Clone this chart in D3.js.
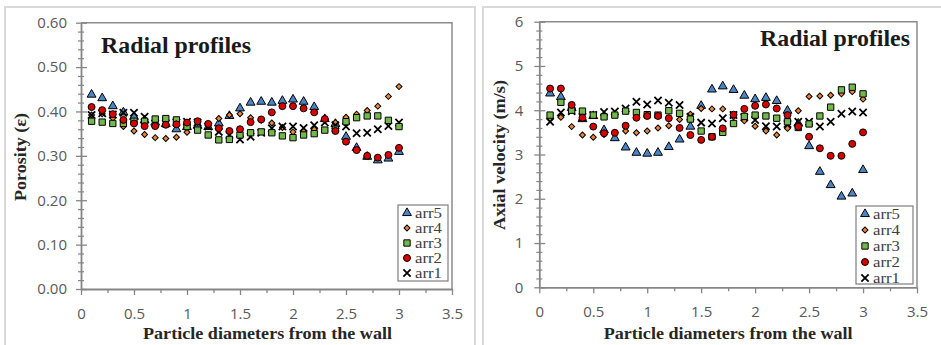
<!DOCTYPE html>
<html>
<head>
<meta charset="utf-8">
<script src="https://cdn.jsdelivr.net/npm/d3@7"></script>
<style>
  body { margin: 0; background: #fff; }
  svg { display: block; }
</style>
</head>
<body>
<div id="vis"></div>
<script>
// x positions: particle diameters from the wall
const xVals = [0.1, 0.2, 0.3, 0.4, 0.5, 0.6, 0.7, 0.8, 0.9, 1.0,
               1.1, 1.2, 1.3, 1.4, 1.5, 1.6, 1.7, 1.8, 1.9, 2.0,
               2.1, 2.2, 2.3, 2.4, 2.5, 2.6, 2.7, 2.8, 2.9, 3.0]

// porosity (left chart)
const poroArr5 = [0.438, 0.430, 0.412, 0.398, 0.388, 0.380, 0.375, 0.372, 0.360, 0.365,
                  0.368, 0.365, 0.373, 0.390, 0.407, 0.420, 0.422, 0.420, 0.424, 0.427,
                  0.422, 0.410, 0.383, 0.372, 0.343, 0.318, 0.298, 0.290, 0.294, 0.309]
const poroArr4 = [0.392, 0.395, 0.385, 0.366, 0.356, 0.348, 0.341, 0.339, 0.342, 0.353,
                  0.375, 0.368, 0.384, 0.392, 0.395, 0.386, 0.380, 0.374, 0.364, 0.354,
                  0.356, 0.360, 0.384, 0.375, 0.387, 0.394, 0.402, 0.412, 0.434, 0.456]
const poroArr3 = [0.378, 0.376, 0.373, 0.373, 0.378, 0.378, 0.383, 0.384, 0.381, 0.366,
                  0.358, 0.347, 0.336, 0.337, 0.347, 0.352, 0.354, 0.352, 0.345, 0.341,
                  0.347, 0.350, 0.358, 0.360, 0.377, 0.386, 0.390, 0.390, 0.380, 0.366]
const poroArr2 = [0.410, 0.403, 0.394, 0.381, 0.373, 0.367, 0.367, 0.370, 0.371, 0.375,
                  0.378, 0.372, 0.362, 0.356, 0.360, 0.376, 0.382, 0.398, 0.412, 0.412,
                  0.407, 0.398, 0.383, 0.356, 0.332, 0.313, 0.300, 0.296, 0.302, 0.318]
const poroArr1 = [0.392, 0.396, 0.393, 0.397, 0.397, 0.388, 0.373, 0.373, 0.375, 0.377,
                  0.375, 0.366, 0.354, 0.347, 0.337, 0.343, 0.352, 0.362, 0.366, 0.366,
                  0.363, 0.369, 0.375, 0.369, 0.366, 0.351, 0.352, 0.360, 0.367, 0.375]

// axial velocity (right chart)
const velArr5 = [4.38, 4.30, 4.05, 3.80, 3.87, 3.55, 3.37, 3.16, 3.04, 3.02,
                 3.04, 3.17, 3.34, 3.63, 4.10, 4.47, 4.54, 4.46, 4.33, 4.25,
                 4.28, 4.21, 3.99, 3.70, 3.19, 2.61, 2.31, 2.05, 2.12, 2.65]
const velArr4 = [3.80, 3.84, 3.63, 3.44, 3.39, 3.45, 3.50, 3.53, 3.49, 3.53,
                 3.60, 3.65, 3.79, 3.91, 4.04, 4.03, 4.03, 3.85, 3.76, 3.64,
                 3.53, 3.44, 3.59, 3.99, 4.31, 4.32, 4.34, 4.37, 4.42, 4.25]
const velArr3 = [3.89, 4.18, 4.00, 3.98, 3.89, 3.85, 3.89, 3.98, 3.95, 3.90,
                 3.89, 3.99, 3.93, 3.80, 3.53, 3.40, 3.50, 3.70, 3.86, 3.89,
                 3.87, 3.82, 3.74, 3.61, 3.69, 3.87, 4.07, 4.46, 4.52, 4.37]
const velArr2 = [4.49, 4.49, 4.12, 3.83, 3.63, 3.48, 3.49, 3.65, 3.83, 3.87,
                 3.87, 3.82, 3.60, 3.44, 3.33, 3.40, 3.59, 3.90, 4.03, 4.10,
                 4.13, 4.04, 3.89, 3.63, 3.40, 3.14, 2.97, 2.97, 3.24, 3.50]
const velArr1 = [3.74, 3.95, 3.98, 3.85, 3.89, 3.96, 3.97, 4.04, 4.19, 4.13,
                 4.22, 4.17, 4.12, 3.85, 3.72, 3.70, 3.82, 3.89, 3.84, 3.78,
                 3.64, 3.63, 3.69, 3.74, 3.74, 3.63, 3.74, 3.92, 3.97, 3.95]

const seriesNames = ['arr5', 'arr4', 'arr3', 'arr2', 'arr1']
const xTicks = [0, 0.5, 1, 1.5, 2, 2.5, 3, 3.5]
const poroTicks = [0, 0.1, 0.2, 0.3, 0.4, 0.5, 0.6]
const velTicks = [0, 1, 2, 3, 4, 5, 6]

// marker styles per series (diamond = rotated square)
const markers = {
  arr5: { sym: d3.symbolTriangle, size: 34, fill: '#4a86c5', rot: 0 },
  arr4: { sym: d3.symbolSquare, size: 18, fill: '#ee8434', rot: 45 },
  arr3: { sym: d3.symbolSquare, size: 40, fill: '#72b84a', rot: 0 },
  arr2: { sym: d3.symbolCircle, size: 38, fill: '#d90000', rot: 0 },
  arr1: { sym: d3.symbolTimes, size: 36, fill: 'none', rot: 0 }
}
const drawOrder = ['arr5', 'arr4', 'arr1', 'arr3', 'arr2']

const serif = 'Liberation Serif'
const W = 941, H = 345
const svg = d3.select('#vis').append('svg')
  .attr('width', W).attr('height', H)

// outer chart borders
svg.append('rect').attr('x', 5).attr('y', 7).attr('width', 470).attr('height', 350)
  .attr('fill', 'none').attr('stroke', '#d9d9d9').attr('stroke-width', 2)
svg.append('rect').attr('x', 483).attr('y', 7).attr('width', 470).attr('height', 350)
  .attr('fill', 'none').attr('stroke', '#d9d9d9').attr('stroke-width', 2)

function drawPanel(p) {
  const g = svg.append('g')
  const x = d3.scaleLinear().domain([0, 3.5]).range([p.left, p.right])
  const y = d3.scaleLinear().domain(p.yDomain).range([p.bottom, p.top])

  // plot area frame (top + right)
  g.append('path')
    .attr('d', `M${p.left},${p.top}H${p.right}V${p.bottom}`)
    .attr('fill', 'none').attr('stroke', '#8c8c8c').attr('stroke-width', 1.5)

  // minor x ticks
  const xMinor = d3.range(0.25, 3.5, 0.5)
  g.append('g').attr('transform', `translate(0,${p.bottom})`)
    .call(d3.axisBottom(x).tickValues(xMinor).tickSize(4).tickFormat(''))
    .call(a => a.select('.domain').remove())
    .selectAll('line').attr('stroke', '#868686').attr('stroke-width', 1.3)

  // major x axis
  const xa = g.append('g').attr('transform', `translate(0,${p.bottom})`)
    .call(d3.axisBottom(x).tickValues(xTicks).tickSizeInner(6).tickSizeOuter(0)
      .tickPadding(13).tickFormat(d => d))
  xa.select('.domain').attr('stroke', '#868686').attr('stroke-width', 1.8)
  xa.selectAll('line').attr('stroke', '#868686').attr('stroke-width', 1.3)
  xa.selectAll('text').attr('fill', '#595959')
    .attr('font-family', 'Open Sans').attr('font-size', 15)

  // minor y ticks
  const [y0, y1] = p.yDomain
  const yMinor = d3.range(y0, y1 + 1e-9, p.yMinorStep)
    .filter(v => !p.yTicks.some(t => Math.abs(t - v) < 1e-6))
  g.append('g').attr('transform', `translate(${p.left},0)`)
    .call(d3.axisLeft(y).tickValues(yMinor).tickSize(3).tickFormat(''))
    .call(a => a.select('.domain').remove())
    .selectAll('line').attr('x1', 3).attr('stroke', '#868686').attr('stroke-width', 1.2)

  // major y axis
  const ya = g.append('g').attr('transform', `translate(${p.left},0)`)
    .call(d3.axisLeft(y).tickValues(p.yTicks).tickSizeInner(5).tickSizeOuter(0)
      .tickPadding(p.yPad).tickFormat(p.yFormat))
  ya.select('.domain').attr('stroke', '#868686').attr('stroke-width', 1.8)
  ya.selectAll('line').attr('x1', 6).attr('stroke', '#868686').attr('stroke-width', 1.3)
  ya.selectAll('text').attr('fill', '#595959')
    .attr('font-family', 'Open Sans').attr('font-size', 15)

  // data points
  drawOrder.forEach(name => {
    const m = markers[name]
    const vals = p.series[name]
    g.append('g').selectAll('path')
      .data(xVals.map((xv, i) => ({ x: xv, y: vals[i] })))
      .join('path')
      .attr('transform', d => `translate(${x(d.x)},${y(d.y)}) rotate(${m.rot})`)
      .attr('d', d3.symbol(m.sym, m.size))
      .attr('fill', m.fill)
      .attr('stroke', '#000')
      .attr('stroke-width', name === 'arr1' ? 1.8 : 1)
  })

  // title
  g.append('text')
    .attr('x', p.titleX).attr('y', p.titleY)
    .attr('text-anchor', p.titleAnchor)
    .attr('font-family', serif).attr('font-weight', 'bold')
    .attr('font-size', 22.5).attr('fill', '#1a1a1a')
    .attr('textLength', 150).attr('lengthAdjust', 'spacingAndGlyphs')
    .text('Radial profiles')

  // axis titles
  g.append('text')
    .attr('x', (p.left + p.right) / 2 + p.xLabelShift).attr('y', 339)
    .attr('text-anchor', 'middle')
    .attr('font-family', serif).attr('font-weight', 'bold')
    .attr('font-size', 16.5).attr('fill', '#262626')
    .attr('textLength', 249).attr('lengthAdjust', 'spacingAndGlyphs')
    .text('Particle diameters from the wall')

  g.append('text')
    .attr('transform', `translate(${p.yLabelX},${p.yLabelY}) rotate(-90)`)
    .attr('text-anchor', 'middle')
    .attr('font-family', serif).attr('font-weight', 'bold')
    .attr('font-size', 16).attr('fill', '#262626')
    .attr('textLength', p.yLabelLen).attr('lengthAdjust', 'spacingAndGlyphs')
    .text(p.yLabel)

  // legend
  const lg = g.append('g').attr('transform', `translate(${p.legX},${p.legY})`)
  lg.append('rect').attr('width', p.legW).attr('height', p.legH)
    .attr('fill', '#fff').attr('stroke', '#7f7f7f').attr('stroke-width', 1.2)
  seriesNames.forEach((name, i) => {
    const m = markers[name]
    const cy = 8 + i * p.legStep
    lg.append('path')
      .attr('transform', `translate(9,${cy}) rotate(${m.rot})`)
      .attr('d', d3.symbol(m.sym, m.size))
      .attr('fill', m.fill).attr('stroke', '#000')
      .attr('stroke-width', name === 'arr1' ? 1.8 : 1)
    lg.append('text')
      .attr('x', 17).attr('y', cy + 4.5)
      .attr('font-family', serif).attr('font-size', 14)
      .attr('fill', '#404040')
      .attr('textLength', 27).attr('lengthAdjust', 'spacingAndGlyphs')
      .text(name)
  })
}

drawPanel({
  left: 81, right: 452, top: 22.7, bottom: 289,
  yDomain: [0, 0.6], yTicks: poroTicks, yMinorStep: 0.02, yPad: 9,
  yFormat: d3.format('.2f'),
  series: { arr5: poroArr5, arr4: poroArr4, arr3: poroArr3, arr2: poroArr2, arr1: poroArr1 },
  titleX: 101, titleY: 53, titleAnchor: 'start',
  xLabelShift: 1, yLabel: 'Porosity (ε)', yLabelX: 26, yLabelY: 157, yLabelLen: 88,
  legX: 398, legY: 205, legW: 50, legH: 76, legStep: 15
})

drawPanel({
  left: 539.3, right: 917, top: 21.7, bottom: 287.3,
  yDomain: [0, 6], yTicks: velTicks, yMinorStep: 0.2, yPad: 11,
  yFormat: d3.format('d'),
  series: { arr5: velArr5, arr4: velArr4, arr3: velArr3, arr2: velArr2, arr1: velArr1 },
  titleX: 910, titleY: 46, titleAnchor: 'end',
  xLabelShift: 0, yLabel: 'Axial velocity (m/s)', yLabelX: 505, yLabelY: 155, yLabelLen: 150,
  legX: 856, legY: 206, legW: 57, legH: 78, legStep: 16
})
</script>
</body>
</html>
